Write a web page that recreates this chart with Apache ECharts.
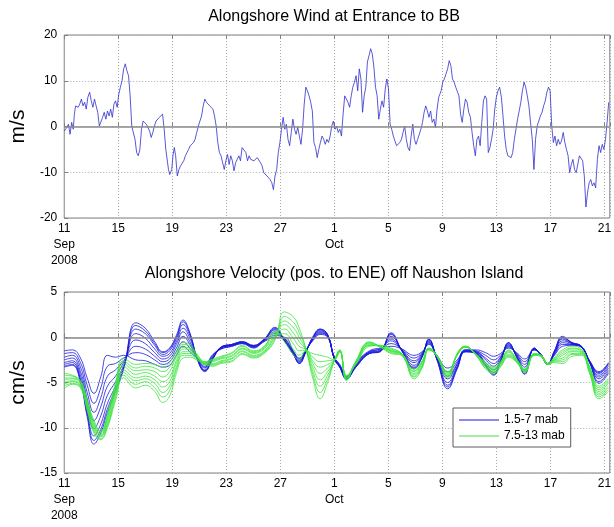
<!DOCTYPE html>
<html>
<head>
<meta charset="utf-8">
<title>Alongshore wind and velocity, Buzzards Bay</title>
<script src="https://cdn.jsdelivr.net/npm/echarts@6/dist/echarts.min.js"></script>
<style>
  html, body { margin: 0; padding: 0; background: #fff; }
  #chart { width: 614px; height: 527px; }
</style>
</head>
<body>
<div id="chart"></div>
<script>
// x values are days since 2008-09-11 00:00
const dayTicks = ['11\nSep\n2008', '15', '19', '23', '27', '1\nOct', '5', '9', '13', '17', '21'];

// alongshore wind (m/s), [day, value]
const windObs = [
  [0,-1.0],[0.19,-0.2],[0.31,0.5],[0.43,-1.7],[0.55,0.9],[0.67,-0.6],[0.75,2.7],[0.84,4.5],[1.03,4.2],[1.15,4.9],
  [1.27,6.0],[1.39,4.5],[1.51,5.3],[1.63,3.8],[1.75,6.4],[1.88,7.5],[2.0,5.6],[2.12,4.2],[2.24,6.0],[2.36,4.5],
  [2.48,3.1],[2.6,0.1],[2.72,0.5],[2.84,2.0],[2.96,3.1],[3.08,1.6],[3.2,3.4],[3.32,2.3],[3.44,3.8],[3.56,2.0],
  [3.68,4.9],[3.8,5.6],[3.92,4.2],[4.04,7.1],[4.16,8.6],[4.28,10.0],[4.4,12.6],[4.52,13.7],[4.64,12.2],[4.76,11.1],
  [4.88,6.7],[5.0,0.1],[5.12,-0.2],[5.24,-2.8],[5.36,-5.7],[5.48,-6.4],[5.6,-5.0],[5.72,-0.6],[5.84,1.2],[5.96,1.6],
  [6.08,0.5],[6.2,0.1],[6.32,-1.0],[6.44,-2.4],[6.56,-1.3],[6.68,0.1],[6.8,1.2],[7.04,2.0],[7.28,2.7],[7.4,-0.6],
  [7.52,-5.0],[7.72,-9.4],[7.81,-10.5],[7.96,-9.4],[8.05,-6.4],[8.15,-4.6],[8.25,-6.4],[8.37,-10.8],[8.49,-9.4],[8.61,-8.6],
  [8.73,-8.3],[8.85,-7.5],[8.97,-6.4],[9.09,-5.7],[9.21,-5.0],[9.33,-4.2],[9.45,-4.6],[9.57,-3.5],[9.69,-2.8],[9.81,-1.3],
  [9.93,0.1],[10.05,1.2],[10.17,2.3],[10.29,4.5],[10.41,6.0],[10.53,5.3],[10.65,5.6],[10.77,4.5],[10.89,4.2],[11.01,3.8],
  [11.13,2.3],[11.25,0.1],[11.37,-3.5],[11.49,-5.7],[11.61,-6.4],[11.73,-7.9],[11.85,-9.4],[11.97,-7.5],[12.09,-6.1],[12.21,-8.3],
  [12.33,-6.4],[12.45,-7.5],[12.57,-9.7],[12.69,-7.9],[12.81,-7.2],[12.93,-6.4],[13.05,-7.5],[13.17,-4.6],[13.29,-5.0],
  [13.45,-5.7],[13.57,-7.5],[13.69,-6.4],[13.81,-7.2],[13.93,-6.8],[14.05,-7.5],[14.17,-7.2],[14.29,-6.8],[14.41,-7.2],[14.53,-7.9],
  [14.65,-8.6],[14.77,-10.1],[14.89,-9.7],[15.01,-10.8],[15.13,-11.2],[15.25,-11.6],[15.37,-12.3],[15.49,-13.8],[15.61,-10.8],[15.73,-9.4],
  [15.85,-5.7],[15.97,-3.5],[16.09,-0.6],[16.21,2.0],[16.33,-0.6],[16.45,0.5],[16.57,-2.8],[16.69,-4.2],[16.81,-1.3],[16.93,1.6],
  [17.05,-0.6],[17.17,-1.7],[17.29,-0.2],[17.41,-2.1],[17.53,-3.9],[17.65,-0.6],[17.77,4.9],[17.89,8.6],[18.01,7.8],[18.13,6.7],
  [18.25,5.3],[18.37,3.4],[18.49,-3.5],[18.61,-4.6],[18.73,-6.8],[18.85,-5.0],[18.97,-3.5],[19.09,-2.1],[19.21,-2.8],[19.33,-3.9],
  [19.45,-2.8],[19.57,-3.5],[19.69,-2.1],[19.81,0.1],[19.93,1.2],[20.05,-0.6],[20.17,0.1],[20.29,-1.3],[20.41,-0.6],[20.53,-2.1],
  [20.65,2.7],[20.77,6.7],[20.89,6.4],[21.01,5.3],[21.13,4.2],[21.25,6.7],[21.37,8.6],[21.49,9.7],[21.61,11.1],[21.73,7.8],
  [21.85,12.6],[21.97,10.4],[22.09,3.1],[22.21,6.7],[22.33,8.6],[22.45,14.1],[22.57,15.5],[22.69,17.0],[22.81,15.9],[22.93,13.0],
  [23.05,8.6],[23.17,6.7],[23.29,1.6],[23.41,3.8],[23.53,5.6],[23.65,4.2],[23.77,8.2],[23.89,10.4],[24.01,8.2],[24.13,0.5],
  [24.25,-0.6],[24.37,-2.1],[24.49,-3.2],[24.61,-4.2],[24.73,-4.6],[24.85,-3.5],[24.97,-2.8],[25.09,-1.3],[25.21,0.1],[25.33,-2.8],
  [25.45,-4.6],[25.57,-5.3],[25.69,-2.1],[25.81,0.5],[25.93,-2.8],[26.05,-3.9],[26.17,-2.8],[26.29,-2.8],[26.41,-0.6],[26.53,0.9],
  [26.65,3.1],[26.77,4.5],[26.89,3.4],[27.01,2.0],[27.13,3.4],[27.25,0.9],[27.37,1.6],[27.49,-0.2],[27.61,3.8],[27.73,6.4],
  [27.91,7.8],[28.03,9.7],[28.15,10.4],[28.27,11.5],[28.39,12.6],[28.51,14.4],[28.63,13.3],[28.75,10.4],[28.87,9.7],[28.99,8.6],
  [29.11,8.9],[29.23,6.7],[29.35,2.7],[29.47,0.9],[29.59,3.8],[29.71,6.0],[29.83,5.3],[29.95,3.1],[30.08,2.0],[30.2,-1.3],
  [30.32,-4.2],[30.44,-6.4],[30.56,-2.8],[30.68,-2.1],[30.8,-4.2],[30.92,0.9],[31.04,5.6],[31.16,6.7],[31.28,6.0],[31.4,-5.7],
  [31.52,-4.6],[31.64,-2.8],[31.76,-0.6],[31.88,3.8],[32.0,6.4],[32.12,7.8],[32.24,8.6],[32.37,6.4],[32.49,2.3],[32.61,-2.1],
  [32.73,-5.0],[32.85,-6.4],[32.97,-6.1],[33.09,-6.8],[33.21,-5.7],[33.33,-2.8],[33.45,-0.6],[33.57,1.6],[33.69,3.4],[33.81,5.3],
  [33.93,7.8],[34.05,9.7],[34.17,8.6],[34.29,6.7],[34.41,4.5],[34.53,0.9],[34.66,-2.8],[34.78,-9.4],[34.9,-2.8],[35.02,0.1],
  [35.14,1.2],[35.26,2.3],[35.38,3.1],[35.5,4.5],[35.62,5.6],[35.74,7.5],[35.86,8.6],[35.98,7.8],[36.1,0.1],[36.22,-3.5],
  [36.34,-2.1],[36.46,-4.2],[36.58,-2.8],[36.7,-3.9],[36.82,-3.2],[36.95,-1.3],[37.07,-3.5],[37.19,-5.0],[37.31,-6.4],[37.43,-10.1],
  [37.55,-8.3],[37.67,-7.2],[37.79,-9.4],[37.91,-10.1],[38.03,-9.7],[38.15,-6.4],[38.27,-6.1],[38.39,-7.5],[38.51,-10.8],[38.63,-17.6],
  [38.75,-14.5],[38.87,-12.3],[38.99,-11.6],[39.11,-13.0],[39.23,-12.3],[39.35,-13.4],[39.48,-7.2],[39.6,-4.2],[39.72,-5.7],[39.84,-3.9],
  [39.96,-5.0],[40.08,-2.8],[40.2,0.9],[40.32,5.3]
];

// velocity sample times (days) shared by all bins
const velDays = [0,0.6,1.2,1.7,2.2,2.7,3.2,3.8,4.4,5.3, 6.0,6.7,7.3,7.8,8.3,8.8,9.3,9.9,10.4,11.0,
  11.6,12.4,13.2,14.0,14.8,15.6,16.3,17.0,17.4,17.9, 18.4,18.95,19.5,20.0,20.4,20.9,21.6,22.6,23.4,24.2,
  25.0,25.9,26.5,27.0,27.6,28.4,29.1,29.7,30.5,31.2, 31.8,32.3,32.9,33.5,34.1,34.8,35.3,35.8,36.3,36.9,
  37.6,38.3,38.9,39.6,40.3];

// alongshore velocity (cm/s), bins 1.5-7 mab
const low1 = [-3.3,-3.1,-5.0,-8.8,-11.8,-10.6,-8.3,-6.0,-3.5,1.6, 1.0,-0.5,-1.6,-1.2,0.2,1.9,0.5,-2.6,-3.8,-2.4, -1.1,-0.8,-0.5,-0.9,-0.2,1.1,-0.4,-2.0,-2.9,-1.6, 0.0,0.9,0.3,-2.4,-3.3,-4.6,-3.3,-1.8,-1.6,0.5, -1.5,-3.5,-2.2,-0.2,-2.5,-5.7,-3.5,-1.6,-1.8,-3.2, -4.2,-2.8,-0.6,-2.2,-4.1,-1.2,-2.0,-3.0,-1.5,0.1, -0.6,-1.0,-2.6,-3.8,-2.8];
const low2 = [-3.2,-3.0,-4.8,-8.5,-11.4,-10.2,-7.9,-5.7,-3.4,1.3, 0.7,-0.7,-1.7,-1.3,0.0,1.7,0.4,-2.6,-3.7,-2.4, -1.1,-0.8,-0.5,-0.9,-0.2,1.0,-0.4,-2.0,-2.9,-1.6, 0.0,0.9,0.3,-2.4,-3.3,-4.6,-3.3,-1.8,-1.6,0.4, -1.5,-3.4,-2.2,-0.2,-2.5,-5.5,-3.4,-1.6,-1.8,-3.1, -4.1,-2.7,-0.6,-2.2,-4.0,-1.2,-2.0,-3.0,-1.5,0.0, -0.6,-1.0,-2.6,-3.9,-2.9];
const low3 = [-3.0,-2.8,-4.6,-8.1,-10.9,-9.6,-7.3,-5.4,-3.3,0.9, 0.4,-0.9,-1.9,-1.5,-0.2,1.4,0.2,-2.6,-3.7,-2.3, -1.1,-0.8,-0.5,-1.0,-0.3,0.9,-0.3,-1.9,-2.8,-1.6, -0.1,0.8,0.3,-2.4,-3.3,-4.6,-3.2,-1.8,-1.5,0.3, -1.5,-3.3,-2.1,-0.3,-2.4,-5.3,-3.3,-1.6,-1.7,-3.0, -3.9,-2.6,-0.7,-2.1,-3.8,-1.2,-2.0,-3.0,-1.6,-0.1, -0.6,-1.0,-2.6,-4.0,-3.0];
const low4 = [-2.8,-2.6,-4.2,-7.5,-10.1,-8.7,-6.4,-4.9,-3.1,0.4, -0.1,-1.3,-2.1,-1.8,-0.5,1.0,-0.1,-2.5,-3.6,-2.3, -1.2,-0.9,-0.6,-1.0,-0.3,0.8,-0.3,-1.9,-2.7,-1.5, -0.1,0.7,0.2,-2.3,-3.2,-4.5,-3.2,-1.7,-1.5,0.1, -1.4,-3.1,-2.0,-0.4,-2.4,-5.0,-3.2,-1.5,-1.7,-2.8, -3.6,-2.5,-0.8,-2.1,-3.6,-1.3,-2.0,-3.0,-1.7,-0.2, -0.7,-1.0,-2.7,-4.2,-3.2];
const low5 = [-2.5,-2.3,-3.8,-6.8,-9.2,-7.7,-5.4,-4.3,-2.8,-0.3, -0.7,-1.7,-2.4,-2.1,-0.8,0.6,-0.5,-2.5,-3.4,-2.2, -1.2,-0.9,-0.6,-1.0,-0.3,0.6,-0.2,-1.8,-2.6,-1.5, -0.2,0.6,0.2,-2.3,-3.2,-4.5,-3.1,-1.7,-1.4,-0.2, -1.4,-2.8,-1.9,-0.5,-2.3,-4.6,-3.0,-1.5,-1.6,-2.5, -3.2,-2.3,-0.9,-2.0,-3.3,-1.3,-1.9,-2.9,-1.7,-0.4, -0.7,-1.1,-2.7,-4.4,-3.4];
const low6 = [-2.2,-2.0,-3.3,-6.1,-8.3,-6.7,-4.3,-3.6,-2.6,-1.0, -1.3,-2.1,-2.7,-2.4,-1.2,0.1,-0.8,-2.5,-3.3,-2.1, -1.2,-0.9,-0.6,-1.1,-0.4,0.4,-0.1,-1.7,-2.5,-1.5, -0.3,0.5,0.1,-2.3,-3.1,-4.4,-3.0,-1.6,-1.3,-0.4, -1.4,-2.6,-1.8,-0.6,-2.2,-4.3,-2.9,-1.5,-1.6,-2.3, -2.9,-2.2,-1.0,-1.9,-3.0,-1.3,-1.9,-2.9,-1.8,-0.6, -0.8,-1.1,-2.7,-4.6,-3.6];
const low7 = [-1.8,-1.7,-2.8,-5.3,-7.3,-5.6,-3.2,-2.9,-2.3,-1.7, -1.9,-2.5,-3.0,-2.7,-1.6,-0.5,-1.2,-2.4,-3.2,-2.0, -1.3,-1.0,-0.7,-1.1,-0.4,0.2,-0.1,-1.7,-2.4,-1.4, -0.3,0.4,0.1,-2.2,-3.1,-4.4,-2.9,-1.6,-1.3,-0.7, -1.3,-2.3,-1.7,-0.7,-2.1,-3.8,-2.7,-1.4,-1.5,-2.0, -2.5,-2.0,-1.1,-1.8,-2.7,-1.4,-1.9,-2.9,-1.9,-0.8, -0.8,-1.1,-2.8,-4.9,-3.8];
const low8 = [-1.5,-1.4,-2.3,-4.5,-6.2,-4.4,-2.0,-2.2,-2.0,-2.5, -2.6,-3.0,-3.3,-3.1,-2.0,-1.0,-1.6,-2.4,-3.0,-1.9, -1.3,-1.0,-0.7,-1.2,-0.5,0.0,0.0,-1.6,-2.3,-1.4, -0.4,0.3,0.0,-2.2,-3.0,-4.3,-2.8,-1.5,-1.2,-1.0, -1.3,-2.0,-1.6,-0.8,-2.0,-3.4,-2.5,-1.4,-1.4,-1.7, -2.1,-1.8,-1.2,-1.7,-2.4,-1.4,-1.9,-2.9,-2.0,-1.0, -0.9,-1.1,-2.8,-5.1,-4.0];

// alongshore velocity (cm/s), bins 7.5-13 mab
const up1 = [-4.0,-4.2,-4.8,-7.0,-9.2,-10.4,-8.5,-5.0,-2.3,-3.0, -2.9,-3.0,-3.3,-2.8,-1.5,-0.6,-0.8,-2.0,-2.7,-2.4, -2.1,-1.7,-0.9,-1.5,-1.0,0.6,-0.5,-2.0,-2.5,-1.5, -1.8,-2.0,-2.2,-2.5,-1.6,-4.2,-3.0,-1.0,-0.9,-1.2, -1.8,-3.5,-2.6,-1.2,-2.0,-3.8,-2.0,-1.1,-1.9,-2.8, -3.3,-2.7,-1.4,-2.4,-3.5,-1.8,-2.0,-2.9,-2.2,-1.4, -1.0,-1.3,-3.2,-5.4,-4.5];
const up2 = [-4.2,-4.3,-4.9,-7.1,-9.4,-10.5,-8.7,-5.3,-2.6,-3.4, -3.2,-3.4,-3.8,-3.3,-1.9,-0.8,-1.0,-2.1,-2.7,-2.5, -2.2,-1.8,-1.0,-1.6,-1.1,0.5,0.0,-1.4,-2.0,-1.5, -2.2,-2.7,-2.6,-2.5,-1.6,-4.3,-2.9,-0.9,-0.9,-1.3, -1.8,-3.7,-2.7,-1.2,-2.0,-3.9,-2.0,-1.1,-1.9,-2.9, -3.4,-2.8,-1.5,-2.5,-3.6,-1.8,-2.0,-2.9,-2.3,-1.6, -1.2,-1.4,-3.3,-5.6,-4.7];
const up3 = [-4.5,-4.5,-5.0,-7.3,-9.6,-10.7,-8.9,-5.6,-2.9,-3.7, -3.6,-3.8,-4.4,-3.8,-2.2,-1.1,-1.2,-2.2,-2.8,-2.6, -2.3,-2.0,-1.2,-1.7,-1.2,0.3,0.4,-0.8,-1.5,-1.4, -2.6,-3.3,-3.0,-2.5,-1.5,-4.4,-2.9,-0.9,-1.0,-1.4, -1.9,-3.8,-2.8,-1.3,-2.0,-4.0,-1.9,-1.1,-1.9,-3.0, -3.5,-2.9,-1.6,-2.5,-3.6,-1.9,-2.0,-2.9,-2.4,-1.8, -1.3,-1.5,-3.4,-5.8,-4.9];
const up4 = [-4.7,-4.6,-5.1,-7.4,-9.8,-10.8,-9.1,-5.8,-3.2,-4.1, -3.9,-4.3,-4.9,-4.4,-2.6,-1.3,-1.4,-2.3,-2.8,-2.7, -2.4,-2.1,-1.3,-1.8,-1.3,0.2,0.9,-0.2,-1.0,-1.4, -2.9,-4.0,-3.4,-2.5,-1.5,-4.5,-2.8,-0.8,-1.0,-1.5, -1.9,-4.0,-2.9,-1.3,-2.0,-4.1,-1.9,-1.1,-1.9,-3.1, -3.6,-2.9,-1.7,-2.6,-3.7,-1.9,-2.0,-2.9,-2.5,-2.0, -1.5,-1.6,-3.5,-6.0,-5.1];
const up5 = [-5.0,-4.8,-5.3,-7.6,-10.0,-10.9,-9.4,-6.1,-3.6,-4.5, -4.3,-4.7,-5.5,-4.9,-2.9,-1.6,-1.6,-2.3,-2.9,-2.9, -2.6,-2.3,-1.5,-2.0,-1.5,0.1,1.4,0.4,-0.5,-1.4, -3.3,-4.7,-3.8,-2.6,-1.5,-4.5,-2.8,-0.7,-1.0,-1.5, -1.9,-4.1,-3.1,-1.3,-2.1,-4.2,-1.9,-1.0,-2.0,-3.2, -3.7,-3.0,-1.9,-2.6,-3.7,-1.9,-2.1,-3.0,-2.5,-2.3, -1.6,-1.7,-3.7,-6.2,-5.4];
const up6 = [-5.2,-4.9,-5.4,-7.7,-10.2,-11.0,-9.6,-6.4,-3.9,-4.8, -4.6,-5.1,-6.1,-5.4,-3.3,-1.8,-1.8,-2.4,-2.9,-3.0, -2.7,-2.4,-1.6,-2.1,-1.6,0.0,1.8,1.0,0.0,-1.4, -3.7,-5.4,-4.2,-2.6,-1.5,-4.6,-2.7,-0.6,-1.0,-1.6, -1.9,-4.3,-3.2,-1.3,-2.1,-4.3,-1.9,-1.0,-2.0,-3.3, -3.8,-3.1,-2.0,-2.7,-3.8,-1.9,-2.1,-3.0,-2.6,-2.5, -1.8,-1.8,-3.8,-6.4,-5.6];
const up7 = [-5.4,-5.1,-5.5,-7.9,-10.4,-11.2,-9.8,-6.7,-4.2,-5.2, -4.9,-5.6,-6.6,-5.9,-3.6,-2.0,-2.0,-2.5,-3.0,-3.1, -2.8,-2.6,-1.8,-2.2,-1.7,-0.2,2.3,1.6,0.5,-1.3, -4.1,-6.1,-4.6,-2.6,-1.4,-4.7,-2.7,-0.6,-1.1,-1.7, -2.0,-4.4,-3.3,-1.4,-2.1,-4.4,-1.8,-1.0,-2.0,-3.4, -3.9,-3.2,-2.1,-2.7,-3.8,-2.0,-2.1,-3.0,-2.7,-2.7, -1.9,-1.9,-3.9,-6.6,-5.8];
const up8 = [-5.7,-5.2,-5.6,-8.0,-10.6,-11.3,-10.0,-7.0,-4.5,-5.6, -5.3,-6.0,-7.2,-6.5,-4.0,-2.3,-2.2,-2.6,-3.0,-3.2, -2.9,-2.7,-1.9,-2.3,-1.8,-0.3,2.8,2.2,1.0,-1.3, -4.5,-6.8,-5.0,-2.6,-1.4,-4.8,-2.6,-0.5,-1.1,-1.8, -2.0,-4.6,-3.4,-1.4,-2.1,-4.5,-1.8,-1.0,-2.0,-3.5, -4.0,-3.3,-2.2,-2.8,-3.9,-2.0,-2.1,-3.0,-2.8,-2.9, -2.1,-2.0,-4.0,-6.8,-6.0];

const lowerBins = [low1, low2, low3, low4, low5, low6, low7, low8];
const upperBins = [up1, up2, up3, up4, up5, up6, up7, up8];

const fontFamily = '"Liberation Sans", Arial, Helvetica, sans-serif';
const frameColor = '#808080';
const blue = '#1818dc';
const green = '#3ee43e';

function dateAxis(gridIndex, onTop) {
  return {
    type: 'value',
    gridIndex: gridIndex,
    position: onTop ? 'top' : 'bottom',
    min: 0,
    max: 40.4,
    interval: 4,
    axisLine: { show: false },
    axisTick: { show: true, inside: true, length: 4, lineStyle: { color: frameColor } },
    axisLabel: onTop ? { show: false } : {
      margin: 3,
      fontSize: 12,
      lineHeight: 16,
      color: '#000',
      fontFamily: fontFamily,
      formatter: function (v) {
        return v % 4 === 0 ? dayTicks[v / 4] : '';
      },
    },
    splitLine: { show: !onTop, lineStyle: { color: '#a8a8a8', type: [1, 2], width: 1 } },
  };
}

function valueAxis(gridIndex, min, max, step, name) {
  return {
    type: 'value',
    gridIndex: gridIndex,
    min: min,
    max: max,
    interval: step,
    name: name,
    nameLocation: 'middle',
    nameRotate: 90,
    nameGap: 26,
    nameTextStyle: { fontSize: 21, color: '#000', fontFamily: fontFamily },
    axisLine: { show: false },
    axisTick: { show: true, inside: true, length: 4, lineStyle: { color: frameColor } },
    axisLabel: { margin: 7, fontSize: 12, color: '#000', fontFamily: fontFamily },
    splitLine: { show: true, lineStyle: { color: '#a8a8a8', type: [1, 2], width: 1 } },
  };
}

const zeroLine = {
  silent: true,
  symbol: 'none',
  label: { show: false },
  lineStyle: { color: '#8a8a8a', width: 1.5, type: 'solid' },
  data: [{ yAxis: 0 }],
};

const series = [
  {
    name: 'wind',
    type: 'line',
    xAxisIndex: 0,
    yAxisIndex: 0,
    data: windObs,
    symbol: 'none',
    lineStyle: { color: '#2e2ecc', width: 0.8 },
    markLine: zeroLine,
  },
];

lowerBins.forEach(function (bin, idx) {
  series.push({
    name: '1.5-7 mab',
    type: 'line',
    xAxisIndex: 2,
    yAxisIndex: 1,
    data: velDays.map(function (d, i) { return [d, bin[i]]; }),
    symbol: 'none',
    smooth: 0.45,
    color: blue,
    lineStyle: { color: blue, width: 0.8 },
    markLine: idx === 0 ? zeroLine : undefined,
  });
});
upperBins.forEach(function (bin) {
  series.push({
    name: '7.5-13 mab',
    type: 'line',
    xAxisIndex: 2,
    yAxisIndex: 1,
    data: velDays.map(function (d, i) { return [d, bin[i]]; }),
    symbol: 'none',
    smooth: 0.45,
    color: green,
    lineStyle: { color: green, width: 0.8 },
  });
});

const options = {
  animation: false,
  backgroundColor: '#fff',
  textStyle: { fontFamily: fontFamily },
  title: [
    {
      text: 'Alongshore Wind at Entrance to BB',
      left: 334, top: 9, padding: 0, textAlign: 'center',
      textStyle: { fontSize: 16, fontWeight: 'normal', color: '#000', fontFamily: fontFamily },
    },
    {
      text: 'Alongshore Velocity (pos. to ENE) off Naushon Island',
      left: 334, top: 266, padding: 0, textAlign: 'center',
      textStyle: { fontSize: 16, fontWeight: 'normal', color: '#000', fontFamily: fontFamily },
    },
  ],
  legend: {
    data: [
      { name: '1.5-7 mab', icon: 'rect', itemStyle: { color: blue } },
      { name: '7.5-13 mab', icon: 'rect', itemStyle: { color: green } },
    ],
    orient: 'vertical',
    left: 453,
    top: 408,
    padding: [4, 6, 3, 6],
    itemGap: 0,
    itemWidth: 40,
    itemHeight: 1,
    backgroundColor: '#fff',
    borderColor: '#5a5a5a',
    borderWidth: 1,
    selectedMode: false,
    textStyle: { fontSize: 12, lineHeight: 16, color: '#000', fontFamily: fontFamily },
  },
  grid: [
    { left: 56, right: -2, top: 35, height: 183, show: true, borderColor: frameColor, borderWidth: 1, backgroundColor: '#fff' },
    { left: 56, right: -2, top: 292, height: 181, show: true, borderColor: frameColor, borderWidth: 1, backgroundColor: '#fff' },
  ],
  xAxis: [dateAxis(0, false), dateAxis(0, true), dateAxis(1, false), dateAxis(1, true)],
  yAxis: [valueAxis(0, -20, 20, 10, 'm/s'), valueAxis(1, -15, 5, 5, 'cm/s')],
  series: series,
};

const myChart = echarts.init(document.getElementById('chart'));
myChart.setOption(options);
</script>
</body>
</html>
